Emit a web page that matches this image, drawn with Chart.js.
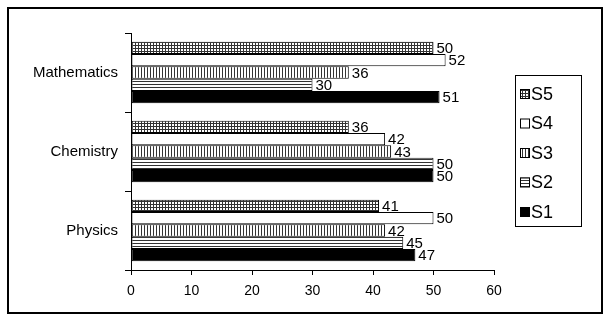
<!DOCTYPE html>
<html>
<head>
<meta charset="utf-8">
<script src="https://cdn.jsdelivr.net/npm/chart.js@4/dist/chart.umd.min.js"></script>
<style>
  html, body { margin: 0; padding: 0; background: #fff; }
  #wrap { width: 611px; height: 323px; position: relative; }
</style>
</head>
<body>
<div id="wrap"><canvas id="chart" width="611" height="323"></canvas></div>
<script>
const subjects = ["Mathematics", "Chemistry", "Physics"]
const seriesNames = ["S5", "S4", "S3", "S2", "S1"]
const s5 = [50, 36, 41]
const s4 = [52, 42, 50]
const s3 = [36, 43, 42]
const s2 = [30, 50, 45]
const s1 = [51, 50, 47]
const xTicks = [0, 10, 20, 30, 40, 50, 60]

// hatch fills like the old office charts
function hatch(kind) {
    const c = document.createElement("canvas")
    c.width = 3
    c.height = 3
    const g = c.getContext("2d")
    g.fillStyle = "#fff"
    g.fillRect(0, 0, 3, 3)
    g.fillStyle = "#333"
    if (kind === "grid" || kind === "vert") g.fillRect(0, 0, 1, 3)
    if (kind === "grid" || kind === "horiz") g.fillRect(0, 0, 3, 1)
    return g.createPattern(c, "repeat")
}

const fills = [hatch("grid"), "#fff", hatch("vert"), hatch("horiz"), "#000"]
const values = [s5, s4, s3, s2, s1]

const font = "Arial, 'Liberation Sans', sans-serif"

const frame = {
    id: "frame",
    afterDraw(chart) {
        const ctx = chart.ctx
        ctx.save()
        ctx.strokeStyle = "#000"
        ctx.lineWidth = 2
        ctx.strokeRect(8, 8, 594, 305)

        // legend box
        ctx.lineWidth = 1
        ctx.strokeRect(515.5, 75.5, 66, 151)
        ctx.font = "18px " + font
        ctx.textBaseline = "middle"
        chart.data.datasets.forEach((ds, i) => {
            const y = 94 + i * 29.5
            ctx.fillStyle = ds.backgroundColor
            ctx.fillRect(520, y - 5, 10, 10)
            ctx.strokeStyle = "#000"
            ctx.strokeRect(520.5, y - 4.5, 9, 9)
            ctx.fillStyle = "#000"
            ctx.fillText(ds.label, 531, y + 1)
        })
        ctx.restore()
    }
}

const valueLabels = {
    id: "valueLabels",
    afterDatasetsDraw(chart) {
        const ctx = chart.ctx
        ctx.save()
        ctx.font = "15px " + font
        ctx.fillStyle = "#000"
        ctx.textBaseline = "middle"
        chart.data.datasets.forEach((ds, i) => {
            chart.getDatasetMeta(i).data.forEach((bar, j) => {
                ctx.fillText(String(ds.data[j]), bar.x + 3, bar.y + 1)
            })
        })
        ctx.restore()
    }
}

new Chart(document.getElementById("chart"), {
    type: "bar",
    data: {
        labels: subjects,
        datasets: seriesNames.map((name, i) => ({
            label: name,
            data: values[i],
            backgroundColor: fills[i],
            borderColor: "#000",
            borderWidth: 1,
            borderSkipped: false,
            categoryPercentage: 0.78,
            barPercentage: 1
        }))
    },
    options: {
        indexAxis: "y",
        responsive: false,
        animation: false,
        layout: { padding: { left: 0, top: 33, right: 117, bottom: 0 } },
        plugins: {
            legend: { display: false },
            tooltip: { enabled: false }
        },
        scales: {
            x: {
                min: 0,
                max: 60,
                afterBuildTicks(scale) {
                    scale.ticks = xTicks.map(v => ({ value: v }))
                },
                afterFit(scale) { scale.height = 53 },
                grid: { drawOnChartArea: false, tickLength: 5, color: "#000" },
                border: { color: "#000" },
                ticks: { color: "#000", font: { family: font, size: 14 }, padding: 8 }
            },
            y: {
                afterFit(scale) { scale.width = 131 },
                grid: { drawOnChartArea: false, offset: true, tickLength: 6, color: "#000" },
                border: { color: "#000" },
                ticks: { color: "#000", font: { family: font, size: 15 }, padding: 7 }
            }
        }
    },
    plugins: [valueLabels, frame]
})
</script>
</body>
</html>
